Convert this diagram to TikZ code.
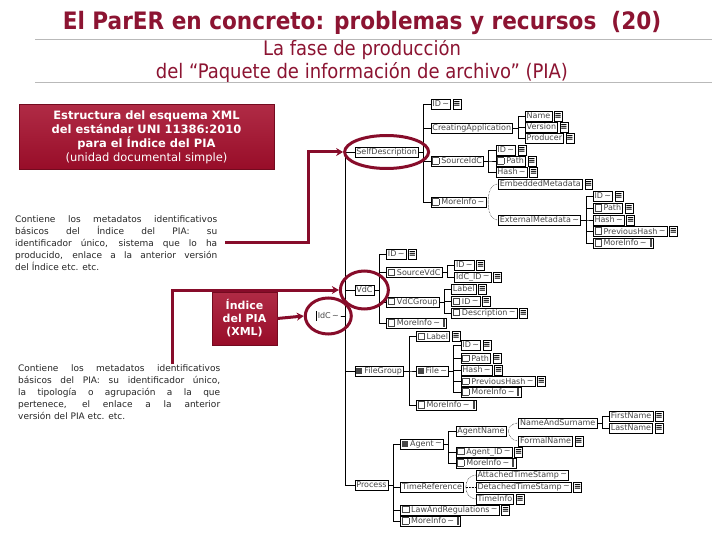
\documentclass[tikz,border=0pt]{standalone}
\usepackage{fontspec}
\setmainfont{DejaVu Sans}
\newfontfamily\condfont{DejaVu Sans Condensed}
\usetikzlibrary{positioning,shapes.geometric,arrows.meta}

\definecolor{parer}{RGB}{140,20,50}
\definecolor{parred}{RGB}{165,14,44}
\definecolor{parline}{RGB}{135,12,42}
\definecolor{rulegray}{RGB}{185,185,185}

% small glyphs used inside the schema boxes
\newcommand{\cbox}{{\setlength{\fboxsep}{0pt}\setlength{\fboxrule}{0.5pt}\fbox{\rule{0pt}{6pt}\hspace{6pt}}}\hspace{2pt}}
\newcommand{\flag}{\rule[-0.5pt]{6pt}{6pt}\hspace{2pt}}
\newcommand{\tld}{\,\raisebox{0.5pt}{\textasciitilde}}
\newcommand{\tailbar}{\hspace{3pt}\rule[-1pt]{2pt}{7.5pt}}

\tikzset{
    elem/.style={draw, anchor=west, fill=white, line width=0.5pt,
        font=\fontsize{8}{9}\selectfont, text=black!72,
        inner xsep=1.5pt, inner ysep=0.4pt, minimum height=10pt},
    kid/.style={elem, xshift=12pt},
    doc/.style={draw, line width=0.5pt, inner sep=0.4pt, minimum height=10pt,
        font=\fontsize{8.5}{8.5}\selectfont\bfseries, right=2pt of #1},
    link/.style={line width=0.5pt},
    choice/.style={line width=0.5pt, densely dotted},
    ring/.style={ellipse, draw=parline, line width=3pt},
    wire/.style={draw=parline, line width=3pt, -{Stealth[length=7pt,width=8pt]}},
    redbox/.style={top color=parred!88!white, bottom color=parred!92!black, draw=parred!70!black, text=white, align=center},
    para/.style={anchor=north west, inner sep=0pt, text width=202pt, align=justify,
        font=\fontsize{9}{12}\selectfont, text=black!85},
}

\begin{document}
\begin{tikzpicture}[x=1pt, y=-1pt]
    \fill[white] (0,0) rectangle (720,540);
    \useasboundingbox (0,0) rectangle (720,540);

    % Title and subtitle
    \node[font=\condfont\bfseries\fontsize{24}{26}\selectfont, text=parer] (title) at (362,23) {El ParER en concreto: problemas y recursos\ \ (20)};
    \node[font=\condfont\fontsize{20}{22}\selectfont, text=parer] (sub1) at (362,50) {La fase de producción};
    \node[font=\condfont\fontsize{20}{22}\selectfont, text=parer] (sub2) at (362,73) {del “Paquete de información de archivo” (PIA)};
    \draw[rulegray] (35,39) -- (712,39);
    \draw[rulegray] (35,82) -- (712,82);

    % Red captions and notes
    \node[redbox, minimum width=255pt, minimum height=65pt, font=\fontsize{11.5}{14}\selectfont] (boxA) at (146.5,137)
        {\textbf{Estructura del esquema XML}\\ \textbf{del estándar UNI 11386:2010}\\ \textbf{para el Índice del PIA}\\ (unidad documental simple)};
    \node[redbox, minimum width=65pt, minimum height=53pt, font=\bfseries\fontsize{11}{13}\selectfont] (boxB) at (244.5,318.5)
        {Índice\\del PIA\\(XML)};
    \node[para] (txtA) at (15,215) {Contiene los metadatos identificativos\linebreak básicos del Índice del PIA: su\linebreak identificador único, sistema que lo ha\linebreak producido, enlace a la anterior versión\linebreak del Índice etc. etc.};
    \node[para] (txtB) at (18,364) {Contiene los metadatos identificativos\linebreak básicos del PIA: su identificador único,\linebreak la tipología o agrupación a la que\linebreak pertenece, el enlace a la anterior\linebreak versión del PIA etc. etc.};

    % Schema root and first level
    \node[elem, draw=none] (idc) at (316,316) {IdC\tld};
    \draw[link] (idc.north west) -- (idc.south west);
    \foreach \nm/\y/\txt in {sd/152/SelfDescription, vdc/290/VdC, fg/371/\flag FileGroup, proc/485/Process} {
        \node[kid, xshift=2pt] (\nm) at (idc.east |- 0,\y) {\txt};
        \draw[link] (idc.east) -- ++(5,0) |- (\nm.west);
    }

    % SelfDescription
    \foreach \nm/\y/\txt in {sdID/104/ID\tld, ca/128/CreatingApplication, sic/161/\cbox SourceIdC, sdMI/202/\cbox MoreInfo\tld} {
        \node[kid] (\nm) at (sd.east |- 0,\y) {\txt};
        \draw[link] (sd.east) -- ++(5,0) |- (\nm.west);
    }
    \foreach \nm/\y/\txt in {caName/116/Name, caVer/127/Version, caProd/138/Producer} {
        \node[kid] (\nm) at (ca.east |- 0,\y) {\txt};
        \draw[link] (ca.east) -- ++(5,0) |- (\nm.west);
    }
    \foreach \nm/\y/\txt in {sicID/150/ID\tld, sicPath/161/\cbox Path, sicHash/172/Hash\tld} {
        \node[kid] (\nm) at (sic.east |- 0,\y) {\txt};
        \draw[link] (sic.east) -- ++(5,0) |- (\nm.west);
    }
    \foreach \nm/\y/\ang/\txt in {emb/184/90/EmbeddedMetadata, ext/220/-90/ExternalMetadata\tld} {
        \node[kid] (\nm) at (sdMI.east |- 0,\y) {\txt};
        \draw[choice] ([xshift=2pt]sdMI.east) to[out=\ang, in=180] (\nm.west);
    }
    \foreach \nm/\y/\txt in {extID/196/ID\tld, extPath/208/\cbox Path, extHash/220/Hash\tld, extPrev/231/\cbox PreviousHash\tld, extMI/243/\cbox MoreInfo\tld\tailbar} {
        \node[kid] (\nm) at (ext.east |- 0,\y) {\txt};
        \draw[link] (ext.east) -- ++(5,0) |- (\nm.west);
    }

    % VdC
    \foreach \nm/\y/\txt in {vID/254/ID\tld, svdc/272/\cbox SourceVdC, vgrp/302/\cbox VdCGroup, vMI/323/\cbox MoreInfo\tld\tailbar} {
        \node[kid] (\nm) at (vdc.east |- 0,\y) {\txt};
        \draw[link] (vdc.east) -- ++(5,0) |- (\nm.west);
    }
    \foreach \nm/\y/\txt in {svID/265/ID\tld, svIdC/277/IdC\_ID\tld} {
        \node[kid] (\nm) at (svdc.east |- 0,\y) {\txt};
        \draw[link] (svdc.east) -- ++(5,0) |- (\nm.west);
    }
    \foreach \nm/\y/\txt in {gLabel/289/Label, gID/301/\cbox ID\tld, gDesc/313/\cbox Description\tld} {
        \node[kid] (\nm) at (vgrp.east |- 0,\y) {\txt};
        \draw[link] (vgrp.east) -- ++(5,0) |- (\nm.west);
    }

    % FileGroup
    \foreach \nm/\y/\txt in {fgLabel/336/\cbox Label, file/371/\flag File\tld, fgMI/405/\cbox MoreInfo\tld\tailbar} {
        \node[kid] (\nm) at (fg.east |- 0,\y) {\txt};
        \draw[link] (fg.east) -- ++(5,0) |- (\nm.west);
    }
    \foreach \nm/\y/\txt in {fID/345/ID\tld, fPath/358/\cbox Path, fHash/370/Hash\tld, fPrev/381/\cbox PreviousHash\tld, fMI/392/\cbox MoreInfo\tld\tailbar} {
        \node[kid] (\nm) at (file.east |- 0,\y) {\txt};
        \draw[link] (file.east) -- ++(5,0) |- (\nm.west);
    }

    % Process
    \foreach \nm/\y/\txt in {agent/444/\flag Agent\tld, tref/487/TimeReference, law/510/\cbox LawAndRegulations\tld, pMI/521/\cbox MoreInfo\tld\tailbar} {
        \node[kid] (\nm) at (proc.east |- 0,\y) {\txt};
        \draw[link] (proc.east) -- ++(5,0) |- (\nm.west);
    }
    \foreach \nm/\y/\txt in {aName/431/AgentName, aID/452/\cbox Agent\_ID\tld, aMI/463/\cbox MoreInfo\tld\tailbar} {
        \node[kid] (\nm) at (agent.east |- 0,\y) {\txt};
        \draw[link] (agent.east) -- ++(5,0) |- (\nm.west);
    }
    \foreach \nm/\y/\ang/\txt in {nas/423/90/NameAndSurname, formal/441/-90/FormalName} {
        \node[kid] (\nm) at (aName.east |- 0,\y) {\txt};
        \draw[choice] ([xshift=2pt]aName.east) to[out=\ang, in=180] (\nm.west);
    }
    \foreach \nm/\y/\txt in {first/416/FirstName, last/428/LastName} {
        \node[kid] (\nm) at (nas.east |- 0,\y) {\txt};
        \draw[link] (nas.east) -- ++(5,0) |- (\nm.west);
    }
    \foreach \nm/\y/\ang/\txt in {att/475/90/AttachedTimeStamp\tld, det/487/0/DetachedTimeStamp\tld, tinfo/499/-90/TimeInfo} {
        \node[kid] (\nm) at (tref.east |- 0,\y) {\txt};
        \draw[choice] ([xshift=2pt]tref.east) to[out=\ang, in=180] (\nm.west);
    }

    % Documentation icons
    \foreach \nm in {sdID, caName, caVer, caProd, sicID, sicPath, sicHash, emb, extID, extPath, extHash, extPrev,
                     vID, svID, svIdC, gLabel, gID, gDesc, fgLabel, fID, fPath, fHash, fPrev,
                     aID, formal, first, last, law, det, tinfo}
        \node[doc=\nm] (i\nm) {≡};

    % Red rings and pointers
    \node[ring, minimum width=84pt, minimum height=33pt] (rSD) at (sd) {};
    \node[ring, minimum width=48pt, minimum height=38pt] (rVdC) at (vdc) {};
    \node[ring, minimum width=46pt, minimum height=36pt] (rIdC) at (idc) {};
    \draw[wire] ([xshift=8pt]txtA.east) -- ++(83,0) |- (rSD.west);
    \draw[wire] ([xshift=53pt]txtB.north) |- (rVdC.west);
    \draw[wire] (boxB.east) -- (rIdC.west);
\end{tikzpicture}
\end{document}
